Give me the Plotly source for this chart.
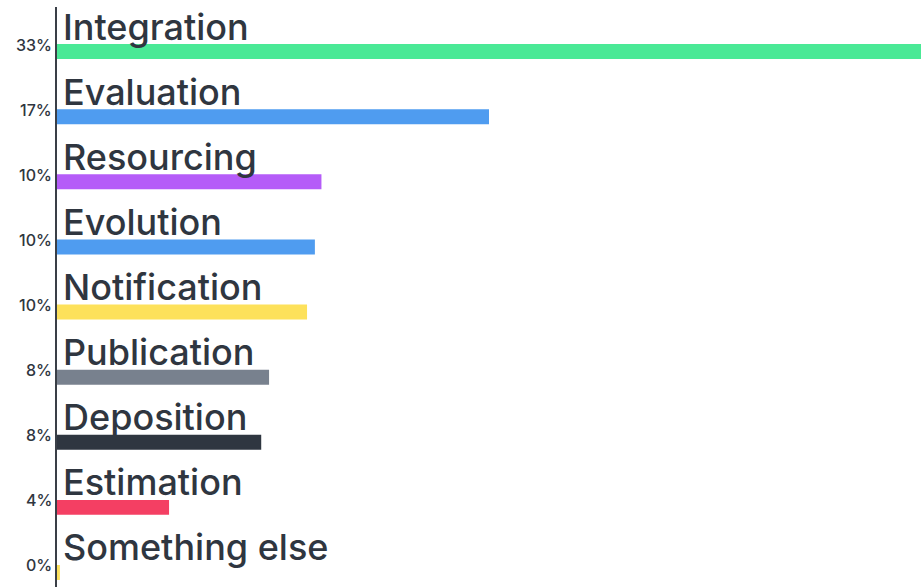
import plotly.graph_objects as go

categories = ["Integration", "Evaluation", "Resourcing", "Evolution", "Notification",
              "Publication", "Deposition", "Estimation", "Something else"]
values = [33.0, 16.5, 10.1, 9.85, 9.55, 8.1, 7.8, 4.28, 0.11]
pct_labels = ["33%", "17%", "10%", "10%", "10%", "8%", "8%", "4%", "0%"]
colors = ["#4ae996", "#4f9cf0", "#b55cf8", "#4f9cf0", "#fde15b",
          "#78818e", "#2f3640", "#f43f63", "#fde15b"]

TEXT = "#2f3640"
FONT = "Inter, Open Sans, sans-serif"

fig = go.Figure(go.Bar(
    x=values, y=categories, orientation="h",
    marker=dict(color=colors, line=dict(width=0)),
    width=0.23, hoverinfo="skip",
))

annotations = []
for cat, pct in zip(categories, pct_labels):
    annotations.append(dict(
        x=0, y=cat, xref="x", yref="y", text=cat, showarrow=False,
        xanchor="left", yanchor="bottom", xshift=4, yshift=1,
        font=dict(family=FONT, size=36, color=TEXT, weight=500),
    ))
    annotations.append(dict(
        x=0, y=cat, xref="paper", yref="y", text=pct, showarrow=False,
        xanchor="right", yanchor="middle", xshift=-3, yshift=7,
        font=dict(family=FONT, size=16, color=TEXT, weight=500),
    ))

fig.update_layout(
    width=921, height=587,
    margin=dict(l=57, r=0, t=7, b=0, autoexpand=False),
    paper_bgcolor="white", plot_bgcolor="white",
    showlegend=False,
    annotations=annotations,
    xaxis=dict(range=[0, 33.0], visible=False, fixedrange=True),
    yaxis=dict(
        categoryorder="array", categoryarray=categories,
        range=[8.223, -0.685], showticklabels=False, ticks="",
        showgrid=False, zeroline=False,
        showline=True, linecolor="#3a3f47", linewidth=2,
    ),
)

fig.write_html(
    "out.html",
    config={"displayModeBar": False},
    post_script="document.body.style.margin='0';document.body.style.overflow='hidden';",
)
